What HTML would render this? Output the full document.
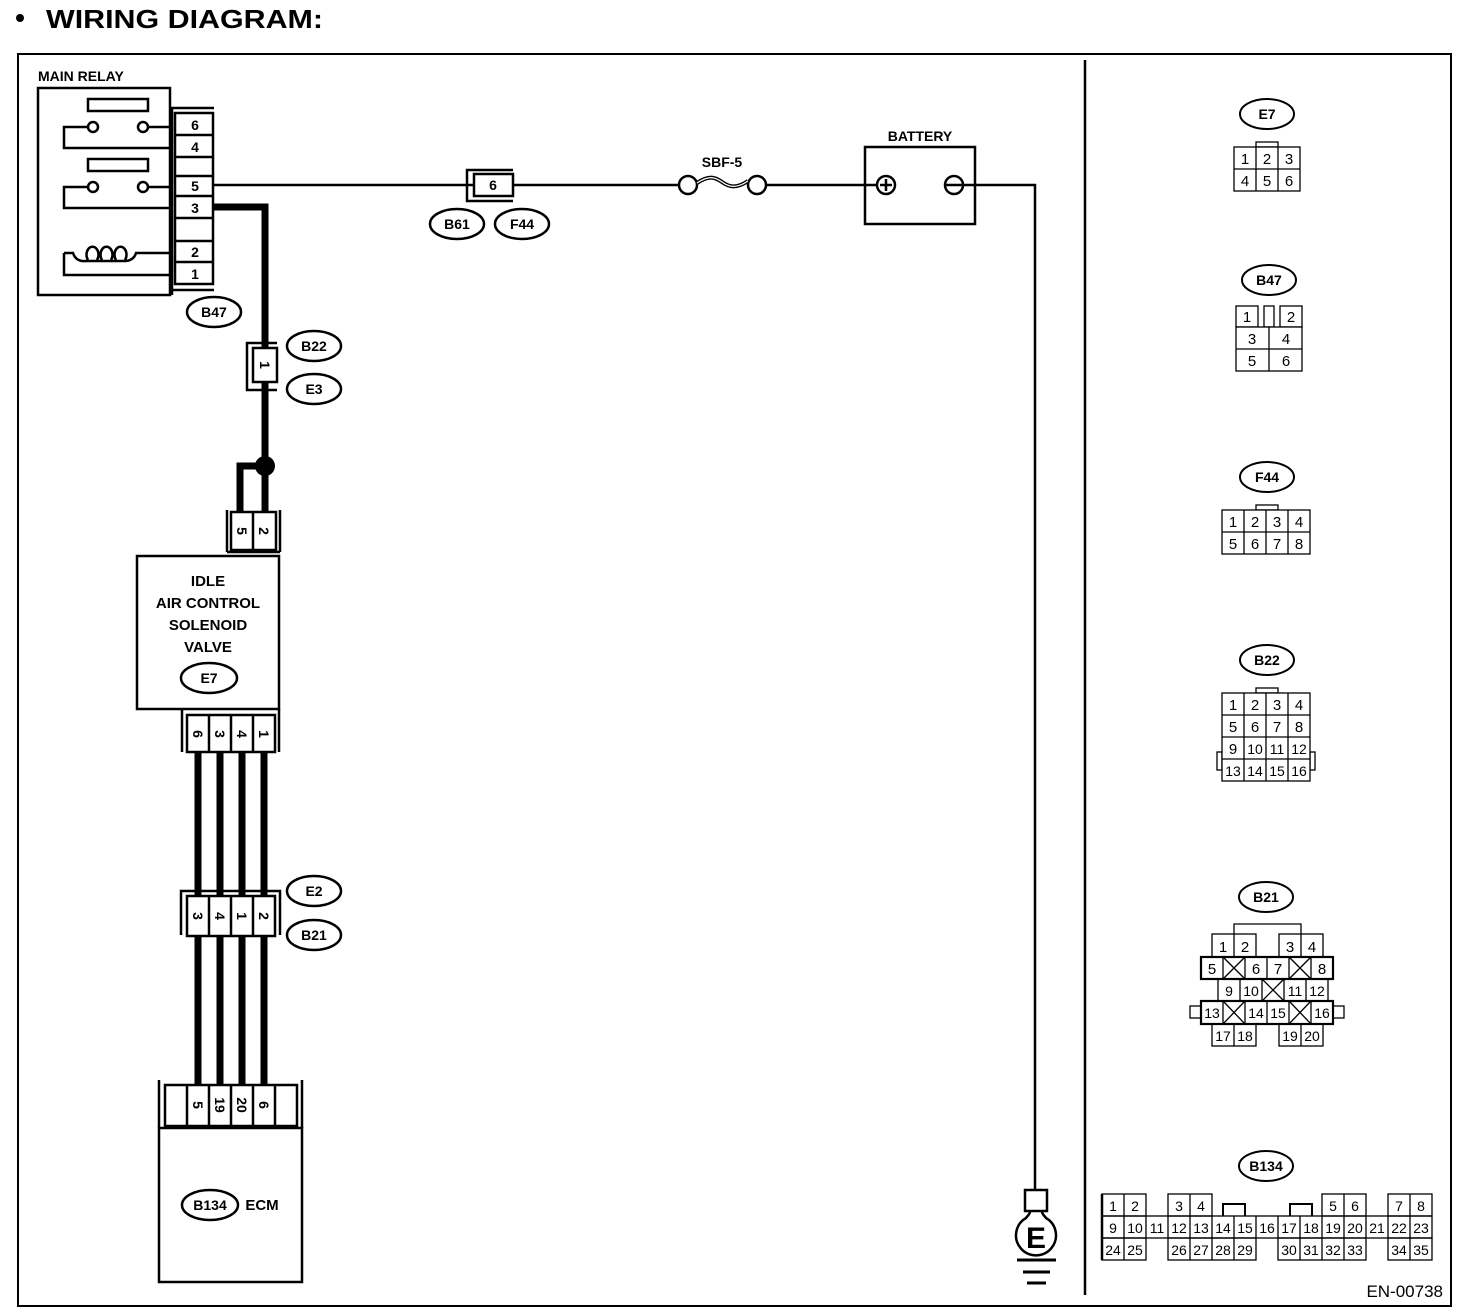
<!DOCTYPE html>
<html><head><meta charset="utf-8"><style>
html,body{margin:0;padding:0;background:#fff}
svg{display:block}
text{font-family:"Liberation Sans",sans-serif}
.b{font-weight:bold}
</style></head><body>
<svg width="1472" height="1316" viewBox="0 0 1472 1316" xmlns="http://www.w3.org/2000/svg">
<rect width="1472" height="1316" fill="#fff"/>
<circle cx="20" cy="18" r="4" fill="#000"/>
<text x="46" y="28" class="b" font-size="26" textLength="277" lengthAdjust="spacingAndGlyphs">WIRING DIAGRAM:</text>
<rect x="18" y="54" width="1433" height="1252" fill="none" stroke="#000" stroke-width="2"/>
<line x1="1085" y1="60" x2="1085" y2="1295" stroke="#000" stroke-width="2.5"/>

<g fill="none" stroke="#000" stroke-width="2.5">
<rect x="38" y="88" width="132" height="207"/>
<polyline points="172,295 172,108 214,108"/>
<line x1="172" y1="290" x2="214" y2="290"/>
<rect x="175" y="113" width="38" height="171"/>
<line x1="175" y1="135" x2="213" y2="135"/>
<line x1="175" y1="157" x2="213" y2="157"/>
<line x1="175" y1="176" x2="213" y2="176"/>
<line x1="175" y1="196" x2="213" y2="196"/>
<line x1="175" y1="218" x2="213" y2="218"/>
<line x1="175" y1="241" x2="213" y2="241"/>
<line x1="175" y1="262" x2="213" y2="262"/>
<rect x="88" y="99" width="60" height="12"/>
<rect x="88" y="159" width="60" height="12"/>
<circle cx="93" cy="127" r="5"/><circle cx="143" cy="127" r="5"/>
<circle cx="93" cy="187" r="5"/><circle cx="143" cy="187" r="5"/>
<polyline points="88,127 64,127 64,148 170,148"/>
<line x1="148" y1="127" x2="170" y2="127"/>
<polyline points="88,187 64,187 64,208 170,208"/>
<line x1="148" y1="187" x2="170" y2="187"/>
<path d="M64,253 L73,253 Q76,262 86,261 L126,261 Q134,260 136,253 L170,253"/>
<path d="M88,260 A6,8 0 1 1 97,260"/>
<path d="M102,260 A6,8 0 1 1 111,260"/>
<path d="M116,260 A6,8 0 1 1 125,260"/>
<polyline points="64,253 64,275 170,275"/>
</g>
<g class="b" font-size="14" text-anchor="middle">
<text x="38" y="81" text-anchor="start" font-size="14">MAIN RELAY</text>
<text x="195" y="130">6</text><text x="195" y="152">4</text>
<text x="195" y="191">5</text><text x="195" y="213">3</text>
<text x="195" y="257">2</text><text x="195" y="279">1</text>
</g>
<g fill="none" stroke="#000" stroke-width="2.5">
<line x1="213" y1="185" x2="474" y2="185"/>
<polyline points="513,170 467,170 467,201 513,201"/>
<rect x="474" y="174" width="39" height="22"/>
<line x1="513" y1="185" x2="679" y2="185"/>
<circle cx="688" cy="185" r="9"/><circle cx="757" cy="185" r="9"/>
<path d="M697,183 c12,-8 18,-6 25,-1 c7,5 14,7 26,-1" stroke-width="4"/>
<path d="M697,183 c12,-8 18,-6 25,-1 c7,5 14,7 26,-1" stroke="#fff" stroke-width="1.2"/>
<line x1="766" y1="185" x2="876" y2="185"/>
<rect x="865" y="147" width="110" height="77"/>
<circle cx="886" cy="185" r="9"/>
<line x1="880" y1="185" x2="892" y2="185"/><line x1="886" y1="179" x2="886" y2="191"/>
<circle cx="954" cy="185" r="9"/>
<polyline points="945,185 1035,185 1035,1190"/>
<rect x="1025" y="1190" width="22" height="21"/>
<path d="M1030,1211 c0,4 -3,5 -4,7 A20,20 0 1 0 1046,1218 c-1,-2 -4,-3 -4,-7"/>
<line x1="1017" y1="1260" x2="1056" y2="1260" stroke-width="3"/>
<line x1="1023" y1="1272" x2="1050" y2="1272" stroke-width="3"/>
<line x1="1027" y1="1283" x2="1046" y2="1283" stroke-width="3"/>
<ellipse cx="457" cy="224" rx="27" ry="15"/>
<ellipse cx="522" cy="224" rx="27" ry="15"/>
</g>
<text x="1036" y="1248" class="b" font-size="30" text-anchor="middle">E</text>
<g class="b" font-size="14" text-anchor="middle">
<text x="493" y="190">6</text>
<text x="457" y="229">B61</text>
<text x="522" y="229">F44</text>
<text x="722" y="167">SBF-5</text>
<text x="920" y="141">BATTERY</text>
</g>

<g fill="none" stroke="#000" stroke-width="7">
<polyline points="213,207 265,207 265,348"/>
<line x1="265" y1="382" x2="265" y2="514"/>
<polyline points="265,466 240,466 240,514"/>
<line x1="198" y1="752" x2="198" y2="1087"/>
<line x1="220" y1="752" x2="220" y2="1087"/>
<line x1="242" y1="752" x2="242" y2="1087"/>
<line x1="264" y1="752" x2="264" y2="1087"/>
</g>
<circle cx="265" cy="466" r="10" fill="#000"/>

<g fill="none" stroke="#000" stroke-width="2.5">
<polyline points="277,343 247,343 247,390 277,390"/>
<rect x="253" y="348" width="24" height="34" fill="#fff"/>
<ellipse cx="314" cy="346" rx="27" ry="15"/>
<ellipse cx="314" cy="389" rx="27" ry="15"/>
<ellipse cx="214" cy="312" rx="27" ry="15"/>
<line x1="227" y1="510" x2="227" y2="552"/>
<line x1="280" y1="510" x2="280" y2="552"/>
<line x1="227" y1="552" x2="280" y2="552"/>
<rect x="231" y="512" width="45" height="38" fill="#fff"/>
<line x1="253" y1="512" x2="253" y2="550"/>
<rect x="137" y="556" width="142" height="153"/>
<ellipse cx="209" cy="678" rx="28" ry="15"/>
<line x1="182" y1="709" x2="182" y2="752"/>
<line x1="279" y1="709" x2="279" y2="752"/>
<rect x="187" y="715" width="88" height="37" fill="#fff"/>
<line x1="209" y1="715" x2="209" y2="752"/>
<line x1="231" y1="715" x2="231" y2="752"/>
<line x1="253" y1="715" x2="253" y2="752"/>
<polyline points="181,935 181,891 280,891 280,935"/>
<rect x="187" y="896" width="88" height="40" fill="#fff"/>
<line x1="209" y1="896" x2="209" y2="936"/>
<line x1="231" y1="896" x2="231" y2="936"/>
<line x1="253" y1="896" x2="253" y2="936"/>
<ellipse cx="314" cy="891" rx="27" ry="15"/>
<ellipse cx="314" cy="935" rx="27" ry="15"/>
<line x1="159" y1="1080" x2="159" y2="1128"/>
<line x1="302" y1="1080" x2="302" y2="1128"/>
<rect x="165" y="1085" width="132" height="41" fill="#fff"/>
<line x1="187" y1="1085" x2="187" y2="1126"/>
<line x1="209" y1="1085" x2="209" y2="1126"/>
<line x1="231" y1="1085" x2="231" y2="1126"/>
<line x1="253" y1="1085" x2="253" y2="1126"/>
<line x1="275" y1="1085" x2="275" y2="1126"/>
<rect x="159" y="1128" width="143" height="154"/>
<ellipse cx="210" cy="1205" rx="28" ry="15"/>
</g>
<g class="b" font-size="14" text-anchor="middle">
<text x="214" y="317">B47</text>
<text x="314" y="351">B22</text>
<text x="314" y="394">E3</text>
<text transform="translate(265,365) rotate(90)" y="5">1</text>
<text transform="translate(242,531) rotate(90)" y="5">5</text>
<text transform="translate(264,531) rotate(90)" y="5">2</text>
<text x="208" y="586" font-size="15">IDLE</text>
<text x="208" y="608" font-size="15">AIR CONTROL</text>
<text x="208" y="630" font-size="15">SOLENOID</text>
<text x="208" y="652" font-size="15">VALVE</text>
<text x="209" y="683">E7</text>
<text transform="translate(198,734) rotate(90)" y="5">6</text>
<text transform="translate(220,734) rotate(90)" y="5">3</text>
<text transform="translate(242,734) rotate(90)" y="5">4</text>
<text transform="translate(264,734) rotate(90)" y="5">1</text>
<text x="314" y="896">E2</text>
<text x="314" y="940">B21</text>
<text transform="translate(198,916) rotate(90)" y="5">3</text>
<text transform="translate(220,916) rotate(90)" y="5">4</text>
<text transform="translate(242,916) rotate(90)" y="5">1</text>
<text transform="translate(264,916) rotate(90)" y="5">2</text>
<text transform="translate(198,1105) rotate(90)" y="5">5</text>
<text transform="translate(220,1105) rotate(90)" y="5">19</text>
<text transform="translate(242,1105) rotate(90)" y="5">20</text>
<text transform="translate(264,1105) rotate(90)" y="5">6</text>
<text x="210" y="1210">B134</text>
<text x="262" y="1210" font-size="15">ECM</text>
</g>

<g fill="none" stroke="#000" stroke-width="2">
<ellipse cx="1267" cy="114" rx="27" ry="15"/>
<ellipse cx="1269" cy="280" rx="27" ry="15"/>
<ellipse cx="1267" cy="477" rx="27" ry="15"/>
<ellipse cx="1267" cy="660" rx="27" ry="15"/>
<ellipse cx="1266" cy="897" rx="27" ry="15"/>
<ellipse cx="1266" cy="1166" rx="27" ry="15"/>
</g>
<g class="b" font-size="14" text-anchor="middle">
<text x="1267" y="119">E7</text>
<text x="1269" y="285">B47</text>
<text x="1267" y="482">F44</text>
<text x="1267" y="665">B22</text>
<text x="1266" y="902">B21</text>
<text x="1266" y="1171">B134</text>
</g>
<g fill="#fff" stroke="#000" stroke-width="1.3">
<rect x="1256" y="142" width="22" height="5"/>
<rect x="1234" y="147" width="66" height="44"/>
<line x1="1234" y1="169" x2="1300" y2="169"/>
<line x1="1256" y1="147" x2="1256" y2="191"/><line x1="1278" y1="147" x2="1278" y2="191"/>
<rect x="1236" y="306" width="22" height="21"/>
<rect x="1264" y="306" width="10" height="21"/>
<rect x="1280" y="306" width="22" height="21"/>
<rect x="1236" y="327" width="66" height="44"/>
<line x1="1236" y1="349" x2="1302" y2="349"/>
<line x1="1269" y1="327" x2="1269" y2="371"/>
<rect x="1256" y="505" width="22" height="5"/>
<rect x="1222" y="510" width="88" height="44"/>
<line x1="1222" y1="532" x2="1310" y2="532"/>
<line x1="1244" y1="510" x2="1244" y2="554"/><line x1="1266" y1="510" x2="1266" y2="554"/><line x1="1288" y1="510" x2="1288" y2="554"/>
<rect x="1256" y="688" width="22" height="5"/>
<rect x="1217" y="752" width="5" height="18"/>
<rect x="1310" y="752" width="5" height="18"/>
<rect x="1222" y="693" width="88" height="88"/>
<line x1="1222" y1="715" x2="1310" y2="715"/>
<line x1="1222" y1="737" x2="1310" y2="737"/>
<line x1="1222" y1="759" x2="1310" y2="759"/>
<line x1="1244" y1="693" x2="1244" y2="781"/><line x1="1266" y1="693" x2="1266" y2="781"/><line x1="1288" y1="693" x2="1288" y2="781"/>
<polyline points="1234,934 1234,924 1301,924 1301,934" fill="none"/>
<rect x="1212" y="934" width="44" height="23"/><line x1="1234" y1="934" x2="1234" y2="957"/>
<rect x="1279" y="934" width="44" height="23"/><line x1="1301" y1="934" x2="1301" y2="957"/>
<rect x="1212" y="1024" width="44" height="22"/><line x1="1234" y1="1024" x2="1234" y2="1046"/>
<rect x="1279" y="1024" width="44" height="22"/><line x1="1301" y1="1024" x2="1301" y2="1046"/>
<rect x="1190" y="1006" width="11" height="12"/>
<rect x="1333" y="1006" width="11" height="12"/>
<rect x="1218" y="979" width="110" height="22"/>
<line x1="1240" y1="979" x2="1240" y2="1001"/><line x1="1262" y1="979" x2="1262" y2="1001"/><line x1="1284" y1="979" x2="1284" y2="1001"/><line x1="1306" y1="979" x2="1306" y2="1001"/>
<line x1="1262" y1="979" x2="1284" y2="1001"/><line x1="1284" y1="979" x2="1262" y2="1001"/>
</g>
<g fill="#fff" stroke="#000" stroke-width="2.2">
<rect x="1201" y="957" width="132" height="22"/>
<rect x="1201" y="1001" width="132" height="23"/>
</g>
<g stroke="#000" stroke-width="1.3">
<line x1="1223" y1="957" x2="1223" y2="979"/><line x1="1245" y1="957" x2="1245" y2="979"/><line x1="1267" y1="957" x2="1267" y2="979"/><line x1="1289" y1="957" x2="1289" y2="979"/><line x1="1311" y1="957" x2="1311" y2="979"/>
<line x1="1223" y1="957" x2="1245" y2="979"/><line x1="1245" y1="957" x2="1223" y2="979"/>
<line x1="1289" y1="957" x2="1311" y2="979"/><line x1="1311" y1="957" x2="1289" y2="979"/>
<line x1="1223" y1="1001" x2="1223" y2="1024"/><line x1="1245" y1="1001" x2="1245" y2="1024"/><line x1="1267" y1="1001" x2="1267" y2="1024"/><line x1="1289" y1="1001" x2="1289" y2="1024"/><line x1="1311" y1="1001" x2="1311" y2="1024"/>
<line x1="1223" y1="1001" x2="1245" y2="1024"/><line x1="1245" y1="1001" x2="1223" y2="1024"/>
<line x1="1289" y1="1001" x2="1311" y2="1024"/><line x1="1311" y1="1001" x2="1289" y2="1024"/>
</g>
<g fill="none" stroke="#000" stroke-width="1.3">
<rect x="1102" y="1194" width="44" height="22"/><line x1="1124" y1="1194" x2="1124" y2="1216"/>
<rect x="1168" y="1194" width="44" height="22"/><line x1="1190" y1="1194" x2="1190" y2="1216"/>
<polyline points="1223,1216 1223,1204 1245,1204 1245,1216" stroke-width="2"/>
<polyline points="1290,1216 1290,1204 1312,1204 1312,1216" stroke-width="2"/>
<rect x="1322" y="1194" width="44" height="22"/><line x1="1344" y1="1194" x2="1344" y2="1216"/>
<rect x="1388" y="1194" width="44" height="22"/><line x1="1410" y1="1194" x2="1410" y2="1216"/>
<rect x="1102" y="1216" width="330" height="22"/>
<path d="M1124,1216v22M1146,1216v22M1168,1216v22M1190,1216v22M1212,1216v22M1234,1216v22M1256,1216v22M1278,1216v22M1300,1216v22M1322,1216v22M1344,1216v22M1366,1216v22M1388,1216v22M1410,1216v22"/>
<rect x="1102" y="1238" width="44" height="22"/><line x1="1124" y1="1238" x2="1124" y2="1260"/>
<rect x="1168" y="1238" width="88" height="22"/><path d="M1190,1238v22M1212,1238v22M1234,1238v22"/>
<rect x="1278" y="1238" width="88" height="22"/><path d="M1300,1238v22M1322,1238v22M1344,1238v22"/>
<rect x="1388" y="1238" width="44" height="22"/><line x1="1410" y1="1238" x2="1410" y2="1260"/>
<line x1="1102" y1="1194" x2="1102" y2="1260" stroke-width="2.5"/>
</g>
<g font-size="15" text-anchor="middle">
<text x="1245" y="164">1</text><text x="1267" y="164">2</text><text x="1289" y="164">3</text>
<text x="1245" y="186">4</text><text x="1267" y="186">5</text><text x="1289" y="186">6</text>
<text x="1247" y="322">1</text><text x="1291" y="322">2</text>
<text x="1252" y="344">3</text><text x="1286" y="344">4</text>
<text x="1252" y="366">5</text><text x="1286" y="366">6</text>
<text x="1233" y="527">1</text><text x="1255" y="527">2</text><text x="1277" y="527">3</text><text x="1299" y="527">4</text>
<text x="1233" y="549">5</text><text x="1255" y="549">6</text><text x="1277" y="549">7</text><text x="1299" y="549">8</text>
<text x="1233" y="710">1</text><text x="1255" y="710">2</text><text x="1277" y="710">3</text><text x="1299" y="710">4</text>
<text x="1233" y="732">5</text><text x="1255" y="732">6</text><text x="1277" y="732">7</text><text x="1299" y="732">8</text>
<text x="1233" y="754">9</text><text x="1255" y="754" font-size="14">10</text><text x="1277" y="754" font-size="14">11</text><text x="1299" y="754" font-size="14">12</text>
<text x="1233" y="776" font-size="14">13</text><text x="1255" y="776" font-size="14">14</text><text x="1277" y="776" font-size="14">15</text><text x="1299" y="776" font-size="14">16</text>
<text x="1223" y="952">1</text><text x="1245" y="952">2</text><text x="1290" y="952">3</text><text x="1312" y="952">4</text>
<text x="1212" y="974">5</text><text x="1256" y="974">6</text><text x="1278" y="974">7</text><text x="1322" y="974">8</text>
<g font-size="14">
<text x="1229" y="996">9</text><text x="1251" y="996">10</text><text x="1295" y="996">11</text><text x="1317" y="996">12</text>
<text x="1212" y="1018">13</text><text x="1256" y="1018">14</text><text x="1278" y="1018">15</text><text x="1322" y="1018">16</text>
<text x="1223" y="1041">17</text><text x="1245" y="1041">18</text><text x="1290" y="1041">19</text><text x="1312" y="1041">20</text>
<text x="1113" y="1211">1</text><text x="1135" y="1211">2</text><text x="1179" y="1211">3</text><text x="1201" y="1211">4</text>
<text x="1333" y="1211">5</text><text x="1355" y="1211">6</text><text x="1399" y="1211">7</text><text x="1421" y="1211">8</text>
<text x="1113" y="1233">9</text><text x="1135" y="1233">10</text><text x="1157" y="1233">11</text><text x="1179" y="1233">12</text><text x="1201" y="1233">13</text><text x="1223" y="1233">14</text><text x="1245" y="1233">15</text><text x="1267" y="1233">16</text><text x="1289" y="1233">17</text><text x="1311" y="1233">18</text><text x="1333" y="1233">19</text><text x="1355" y="1233">20</text><text x="1377" y="1233">21</text><text x="1399" y="1233">22</text><text x="1421" y="1233">23</text>
<text x="1113" y="1255">24</text><text x="1135" y="1255">25</text><text x="1179" y="1255">26</text><text x="1201" y="1255">27</text><text x="1223" y="1255">28</text><text x="1245" y="1255">29</text>
<text x="1289" y="1255">30</text><text x="1311" y="1255">31</text><text x="1333" y="1255">32</text><text x="1355" y="1255">33</text>
<text x="1399" y="1255">34</text><text x="1421" y="1255">35</text>
</g>
</g>
<text x="1443" y="1297" font-size="17" text-anchor="end">EN-00738</text>
</svg>
</body></html>
